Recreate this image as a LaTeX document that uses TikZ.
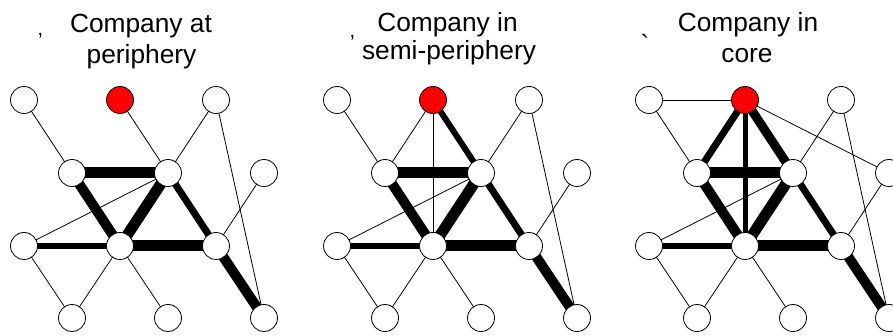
\documentclass[tikz,border=0pt]{standalone}
\usepackage{fontspec}
\setmainfont{Liberation Sans}
\newfontfamily\rawsans{Liberation Sans}[Ligatures=TeXOff]
\usetikzlibrary{backgrounds}
\tikzset{
  vtx/.style={circle, draw=black, line width=0.8pt, fill=white, minimum size=27pt, inner sep=0pt},
  company/.style={vtx, fill=red},
  weak/.style={draw=black, line width=0.8pt},
  tie/.style={draw=black, line width=#1},
  title/.style={anchor=base, inner sep=0pt, font=\fontsize{26.3}{30}\selectfont},
  stray/.style={anchor=base, inner sep=0pt, font=\rawsans\fontsize{#1}{#1}\selectfont},
}
\newcommand{\placenodes}[2]{%
  \begin{scope}[shift={(#2,0)}]
    \node[vtx] (#1A1) at (0,100) {};
    \node[company] (#1A2) at (96,100) {};
    \node[vtx] (#1A3) at (192,100) {};
    \node[vtx] (#1B1) at (48,173) {};
    \node[vtx] (#1B2) at (144,173) {};
    \node[vtx] (#1B3) at (240,173) {};
    \node[vtx] (#1C1) at (0,246) {};
    \node[vtx] (#1C2) at (96,246) {};
    \node[vtx] (#1C3) at (192,246) {};
    \node[vtx] (#1D1) at (48,318) {};
    \node[vtx] (#1D2) at (144,318) {};
    \node[vtx] (#1D3) at (240,318) {};
  \end{scope}}
\newcommand{\commonedges}[1]{%
  \draw[weak] (#1A1.center) -- (#1B1.center);
  \draw[weak] (#1A3.center) -- (#1B2.center);
  \draw[weak] (#1A3.center) -- (#1D3.center);
  \draw[tie=11pt] (#1B1.center) -- (#1B2.center);
  \draw[tie=10pt] (#1B1.center) -- (#1C2.center);
  \draw[tie=11pt] (#1B2.center) -- (#1C2.center);
  \draw[tie=7pt] (#1B2.center) -- (#1C3.center);
  \draw[weak] (#1B2.center) -- (#1C1.center);
  \draw[weak] (#1B3.center) -- (#1C3.center);
  \draw[tie=6pt] (#1C1.center) -- (#1C2.center);
  \draw[tie=11pt] (#1C2.center) -- (#1C3.center);
  \draw[weak] (#1C1.center) -- (#1D1.center);
  \draw[weak] (#1C2.center) -- (#1D1.center);
  \draw[weak] (#1C2.center) -- (#1D2.center);
  \draw[tie=10pt] (#1C3.center) -- (#1D3.center);}
\begin{document}
\begin{tikzpicture}[x=1pt, y=-1pt]
  \useasboundingbox (0,0) rectangle (893,336);
  \clip (0,0) rectangle (893,336);

  % titles
  \node[title] (t1a) at (141,33) {Company at};
  \node[title] (t1b) at (141.5,64) {periphery};
  \node[title] (t2a) at (447.5,31.5) {Company in};
  \node[title] (t2b) at (449,60) {semi-periphery};
  \node[title] (t3a) at (748,31.5) {Company in};
  \node[title] (t3b) at (747,63) {core};

  % stray marks
  \node[stray=20] (m1) at (40.5,36) {,};
  \node[stray=20] (m2) at (352.5,37.5) {,};
  \node[stray=26] (m3) at (645,54) {`};

  % nodes
  \placenodes{p}{24}
  \placenodes{q}{337}
  \placenodes{r}{649}

  \begin{scope}[on background layer]
    \commonedges{p}
    \commonedges{q}
    \commonedges{r}
    % panel 1
    \draw[weak] (pA2.center) -- (pB2.center);
    % panel 2
    \draw[weak] (qA2.center) -- (qB1.center);
    \draw[weak] (qA2.center) -- (qC2.center);
    \draw[tie=6pt] (qA2.center) -- (qB2.center);
    % panel 3
    \draw[weak] (rA1.center) -- (rA2.center);
    \draw[tie=7pt] (rA2.center) -- (rB1.center);
    \draw[tie=5pt] (rA2.center) -- (rC2.center);
    \draw[tie=9pt] (rA2.center) -- (rB2.center);
    \draw[weak] (rA2.center) -- (rB3.center);
  \end{scope}
\end{tikzpicture}
\end{document}
